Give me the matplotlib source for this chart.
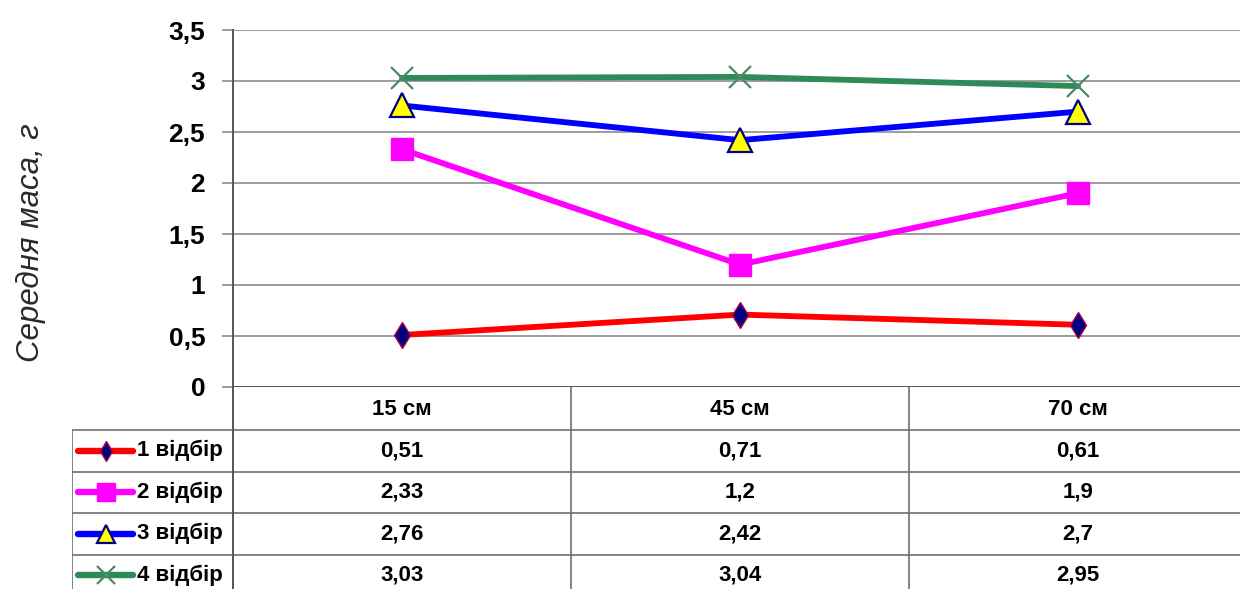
import matplotlib
matplotlib.use("Agg")
import matplotlib.pyplot as plt
from matplotlib.lines import Line2D

categories = ["15 см", "45 см", "70 см"]
series_names = ["1 відбір", "2 відбір", "3 відбір", "4 відбір"]
values_1 = [0.51, 0.71, 0.61]
values_2 = [2.33, 1.2, 1.9]
values_3 = [2.76, 2.42, 2.7]
values_4 = [3.03, 3.04, 2.95]
series_values = [values_1, values_2, values_3, values_4]
y_ticks = [0, 0.5, 1, 1.5, 2, 2.5, 3, 3.5]
y_label = "Середня маса, г"

styles = [
    dict(color="#FF0000", marker="d", ms=13, mfc="#000080", mec="#B00040", mew=1.0),
    dict(color="#FF00FF", marker="s", ms=16, mfc="#FF00FF", mec="#FF00FF", mew=1),
    dict(color="#0000FF", marker="^", ms=17, mfc="#FFFF00", mec="#000080", mew=1.6),
    dict(color="#2E8B57", marker="x", ms=16, mfc="#2E8B57", mec="#4A8A66", mew=1.6),
]

plt.rcParams["font.family"] = ["Liberation Sans", "DejaVu Sans"]

W, H = 1240, 589
fig = plt.figure(figsize=(W / 100, H / 100), dpi=100)

# plot area in pixels
px_left, px_top, px_bottom = 233, 30, 387
col_w = 338
n = len(categories)
ax = fig.add_axes([px_left / W, (H - px_bottom) / H, n * col_w / W, (px_bottom - px_top) / H])
x = list(range(n))
for vals, st in zip(series_values, styles):
    ax.plot(x, vals, lw=4.2, solid_capstyle="round", zorder=3, **st)
ax.set_xlim(-0.5, n - 0.5)
ax.set_ylim(0, 3.5)
ax.set_yticks(y_ticks)
ax.set_yticklabels([f"{t:g}".replace(".", ",") for t in y_ticks],
                   fontsize=19, fontweight="bold")
ax.set_xticks([])
ax.grid(axis="y", color="#8C8C8C", lw=1.2)
ax.tick_params(axis="y", length=8, color="#8C8C8C", width=1.2, pad=12)
for s in ["top", "right", "bottom"]:
    ax.spines[s].set_visible(False)
ax.spines["left"].set_color("#555555")
ax.spines["left"].set_linewidth(1.4)
ax.axhline(0, color="#555555", lw=1.4, zorder=4)

fig.text(31 / W, 1 - 243 / H, y_label, rotation=90, ha="center", va="center",
         fontsize=22.5, fontstyle="italic", color="#2A2A2A")

# data table under the plot, in the same column units as the plot
tab_h = H - px_bottom
leg_w = 161 / col_w
tax = fig.add_axes([(px_left - 161) / W, 0, (161 + n * col_w) / W, tab_h / H])
tax.set_xlim(-0.5 - leg_w, n - 0.5)
tax.set_ylim(tab_h, 0)
tax.axis("off")
head_h = 43
row_h = 41.5
gcol = "#707070"
# horizontal lines
for i in range(len(series_names)):
    y = head_h + i * row_h
    tax.plot([-0.5 - leg_w, n - 0.5], [y, y], color=gcol, lw=1.2)
# vertical lines
tax.plot([-0.5 - leg_w] * 2, [head_h, tab_h], color=gcol, lw=1.2)
for k in range(n):
    tax.plot([k - 0.5] * 2, [0, tab_h], color=gcol if k else "#555555",
             lw=1.2 if k else 1.4)

for k, c in enumerate(categories):
    tax.text(k, head_h / 2 + 1, c, ha="center", va="center", fontsize=16, fontweight="bold")

for i, (name, vals, st) in enumerate(zip(series_names, series_values, styles)):
    yc = head_h + (i + 0.5) * row_h
    x0 = -0.5 - leg_w + 6 / col_w
    x1 = x0 + 55 / col_w
    tax.add_line(Line2D([x0, x1], [yc, yc], lw=4.6, solid_capstyle="round",
                        color=st["color"]))
    tax.add_line(Line2D([(x0 + x1) / 2], [yc], lw=0, marker=st["marker"],
                        ms=st["ms"] * 0.8, mfc=st["mfc"], mec=st["mec"], mew=st["mew"]))
    tax.text(x1 + 4 / col_w, yc, name, ha="left", va="center", fontsize=16, fontweight="bold")
    for k, v in enumerate(vals):
        tax.text(k, yc, f"{v:g}".replace(".", ","), ha="center", va="center",
                 fontsize=16, fontweight="bold")

fig.savefig("out.png", dpi=100)
